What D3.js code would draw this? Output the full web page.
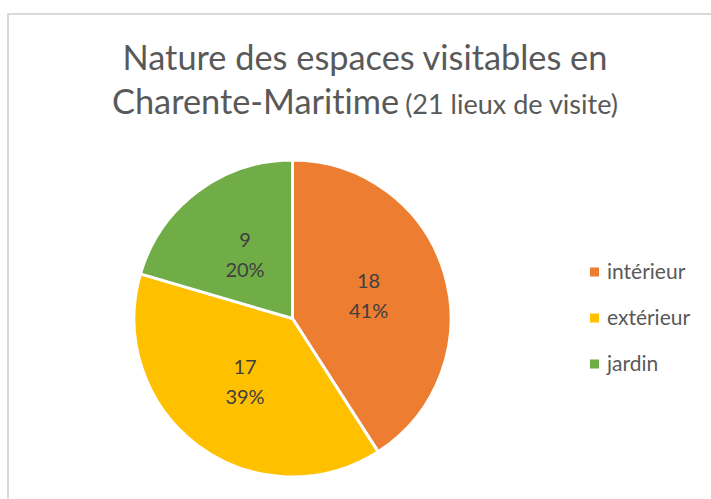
<!DOCTYPE html>
<html>
<head>
<meta charset="utf-8">
<script src="https://cdn.jsdelivr.net/npm/d3@7"></script>
<style>
  body { margin: 0; background: #fff; }
  text { font-family: Lato, "Open Sans", sans-serif; font-variant-ligatures: none; }
</style>
</head>
<body>
<div id="chart"></div>
<script>
// chart data
const categories = ['intérieur', 'extérieur', 'jardin'];
const values = [18, 17, 9];
const colors = ['#ED7D31', '#FFC000', '#70AD47'];
const titleLine1 = 'Nature des espaces visitables en';
const titleLine2 = 'Charente-Maritime';
const titleNote = '(21 lieux de visite)';

const width = 711;
const height = 499;

const svg = d3.select('#chart').append('svg')
  .attr('width', width)
  .attr('height', height);

// chart frame
svg.append('rect')
  .attr('x', 8)
  .attr('y', 14)
  .attr('width', width + 10)
  .attr('height', height + 10)
  .attr('fill', '#fff')
  .attr('stroke', '#d9d9d9')
  .attr('stroke-width', 2);

// fit a text element font size so that it spans the wanted width
function fitWidth(sel, target) {
  let fs = parseFloat(sel.attr('font-size'));
  let w = sel.node().getComputedTextLength();
  sel.attr('font-size', fs * target / w);
  return fs * target / w;
}

// title
const cx = 365;
let t1 = svg.append('text')
  .attr('x', cx)
  .attr('y', 70)
  .attr('text-anchor', 'middle')
  .attr('fill', '#595959')
  .attr('font-size', 30)
  .text(titleLine1);
let titleSize = fitWidth(t1, 485);

let t2a = svg.append('text')
  .attr('y', 114)
  .attr('fill', '#595959')
  .attr('font-size', titleSize)
  .text(titleLine2);
let t2b = svg.append('text')
  .attr('y', 114)
  .attr('fill', '#595959')
  .attr('font-size', 20)
  .text(titleNote);
fitWidth(t2b, 213);
let wa = t2a.node().getComputedTextLength();
let wb = t2b.node().getComputedTextLength();
let gap = 6;
let x0 = cx - (wa + gap + wb) / 2;
t2a.attr('x', x0);
t2b.attr('x', x0 + wa + gap);

// pie
const pcx = 292.5;
const pcy = 318.5;
const radius = 158.5;

const pie = d3.pie().sort(null).value(d => d);
const arc = d3.arc().innerRadius(0).outerRadius(radius);
const labelArc = d3.arc().innerRadius(radius * 0.5).outerRadius(radius * 0.5);

const total = d3.sum(values);
const arcs = pie(values);

const g = svg.append('g')
  .attr('transform', 'translate(' + pcx + ',' + pcy + ')');

g.selectAll('path')
  .data(arcs)
  .enter().append('path')
  .attr('d', arc)
  .attr('fill', (d, i) => colors[i])
  .attr('stroke', '#fff')
  .attr('stroke-width', 3)
  .attr('stroke-linejoin', 'round');

// data labels: value and percentage
const labels = g.selectAll('text.lbl')
  .data(arcs)
  .enter().append('text')
  .attr('class', 'lbl')
  .attr('text-anchor', 'middle')
  .attr('fill', '#404040')
  .attr('font-size', 20)
  .attr('transform', d => 'translate(' + labelArc.centroid(d) + ')');

labels.append('tspan')
  .attr('x', 0)
  .attr('y', -8)
  .text(d => d.data);
labels.append('tspan')
  .attr('x', 0)
  .attr('y', 22)
  .text(d => Math.round(d.data / total * 100) + '%');

// legend
const legend = svg.append('g')
  .selectAll('g')
  .data(categories)
  .enter().append('g')
  .attr('transform', (d, i) => 'translate(590,' + (272 + i * 46) + ')');

legend.append('rect')
  .attr('x', 0)
  .attr('y', -4.5)
  .attr('width', 9)
  .attr('height', 9)
  .attr('fill', (d, i) => colors[i]);

legend.append('text')
  .attr('x', 17)
  .attr('y', 0)
  .attr('dy', '0.35em')
  .attr('fill', '#595959')
  .attr('font-size', 21)
  .text(d => d);
</script>
</body>
</html>
